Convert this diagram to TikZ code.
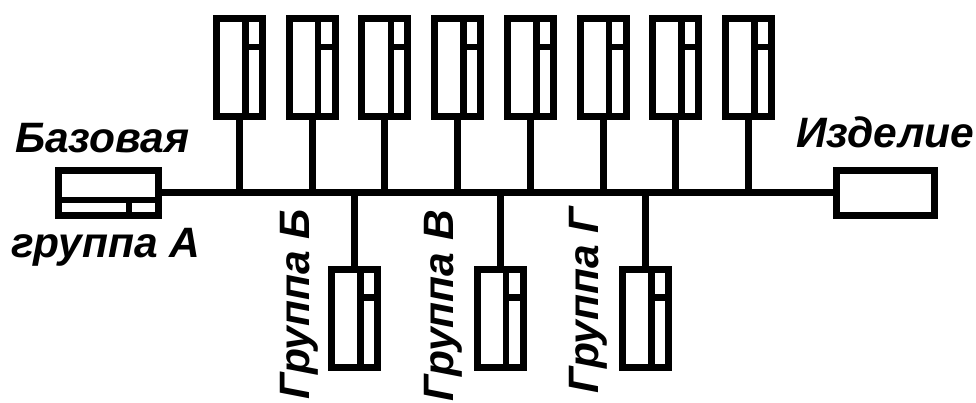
\documentclass[tikz,border=0pt]{standalone}
\usepackage{fontspec}
\setmainfont{Liberation Sans}
\begin{document}
\begin{tikzpicture}[x=1pt,y=-1pt,
  unit/.style={draw, line width=7pt, minimum width=46pt, minimum height=98pt, inner sep=0pt, outer sep=0pt},
  flat/.style={draw, line width=7pt, minimum width=100pt, minimum height=45pt, inner sep=0pt, outer sep=0pt},
  wire/.style={line width=7pt},
  bar/.style={line width=6.5pt},
  lbl/.style={font=\fontsize{42.5}{42.5}\selectfont\bfseries\itshape, inner sep=0pt, outer sep=0pt}]
\useasboundingbox[fill=white] (0,0) rectangle (976,403);
% base and product
\node[flat] (A) at (108.5,193) {};
\draw[bar] ([yshift=-7pt]A.west) -- ([yshift=-7pt]A.east);
\draw[bar] ([xshift=20.5pt,yshift=-7pt]A.center) -- ([xshift=20.5pt]A.south);
\node[flat, minimum width=98pt] (P) at (885.5,193) {};
\draw[wire] (A.east) -- (P.west);
% top units
\foreach \i/\x in {1/239.5,2/312.2,3/384.9,4/457.6,5/530.3,6/603,7/675.7,8/748.4}{
  \node[unit] (t\i) at (\x,67.5) {};
  \draw[bar] ([xshift=6pt]t\i.north) -- ([xshift=6pt]t\i.south);
  \draw[bar] ([xshift=6pt,yshift=-28.5pt]t\i.north) -- ([yshift=-28.5pt]t\i.north east);
  \draw[wire] (t\i.south) -- (t\i.south |- A.east);
}
% bottom units
\foreach \i/\x in {1/354.5,2/500,3/645.5}{
  \node[unit] (b\i) at (\x,318) {};
  \draw[bar] ([xshift=6pt]b\i.north) -- ([xshift=6pt]b\i.south);
  \draw[bar] ([xshift=6pt,yshift=-28.5pt]b\i.north) -- ([yshift=-28.5pt]b\i.north east);
  \draw[wire] (b\i.north) -- (b\i.north |- A.east);
}
% labels
\node[lbl, anchor=base west] (lA1) at (15,153) {Базовая};
\node[lbl, anchor=base west] (lA2) at (11,258) {группа А};
\node[lbl, anchor=base west] (lI) at (796,148) {Изделие};
\node[lbl, rotate=90, anchor=base east] (lB) at (309,209) {Группа Б};
\node[lbl, rotate=90, anchor=base east] (lV) at (453,210) {Группа В};
\node[lbl, rotate=90, anchor=base east] (lG) at (598,207) {Группа Г};
\end{tikzpicture}
\end{document}
